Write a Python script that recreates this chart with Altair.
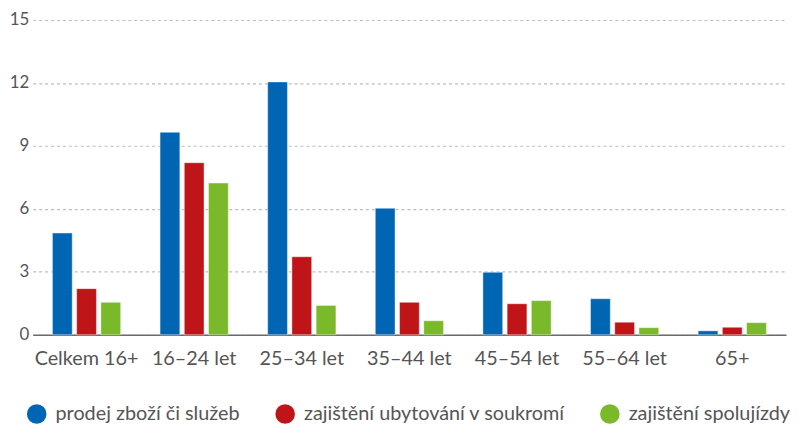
import altair as alt
import pandas as pd

categories = ["Celkem 16+", "16–24 let", "25–34 let", "35–44 let", "45–54 let", "55–64 let", "65+"]
series = ["prodej zboží či služeb", "zajištění ubytování v soukromí", "zajištění spolujízdy"]
prodej = [4.85, 9.65, 12.05, 6.03, 2.98, 1.72, 0.19]
ubytovani = [2.2, 8.2, 3.72, 1.55, 1.48, 0.6, 0.36]
spolujizda = [1.55, 7.23, 1.4, 0.67, 1.63, 0.34, 0.58]
colors = ["#0066b3", "#c01518", "#7ab929"]

rows = []
for vals, s in zip([prodej, ubytovani, spolujizda], series):
    for c, v in zip(categories, vals):
        rows.append({"kategorie": c, "rada": s, "hodnota": v})
df = pd.DataFrame(rows)

FONT = "Lato"
GREY = "#555555"

chart = alt.Chart(df).mark_bar(stroke="white", strokeWidth=0.6, strokeOpacity=0.7).encode(
    x=alt.X("kategorie:N", sort=categories,
            scale=alt.Scale(paddingInner=0.366, paddingOuter=0.183),
            axis=alt.Axis(title=None, labelAngle=0, ticks=False, labelPadding=14,
                          labelFontSize=20,
                          domainColor="#6b6b6b", domainWidth=1.6, grid=False)),
    xOffset=alt.XOffset("rada:N", sort=series, scale=alt.Scale(paddingInner=0.184)),
    y=alt.Y("hodnota:Q", scale=alt.Scale(domain=[0, 15], nice=False),
            axis=alt.Axis(title=None, values=[0, 3, 6, 9, 12, 15], domain=False, ticks=False,
                          labelFontSize=17,
                          labelPadding=4, gridDash=[3, 3], gridColor="#bdbdbd", gridWidth=1.2)),
    color=alt.Color("rada:N", sort=series,
                    scale=alt.Scale(domain=series, range=colors),
                    legend=alt.Legend(title=None, orient="none", direction="horizontal",
                                      legendX=-6, legendY=388, columns=3, columnPadding=35,
                                      symbolType="circle", symbolSize=390, symbolStrokeWidth=0,
                                      labelOffset=9, labelLimit=400)),
).properties(
    width=761, height=318,
    autosize=alt.AutoSizeParams(type="none"),
    padding={"left": 25, "top": 10, "right": 6, "bottom": 94},
).configure_view(stroke=None).configure_axis(
    labelFont=FONT, labelColor=GREY,
).configure_legend(
    labelFont=FONT, labelFontSize=20, labelColor=GREY,
)

chart.save("out.html", embed_options={"renderer": "svg", "actions": False})
